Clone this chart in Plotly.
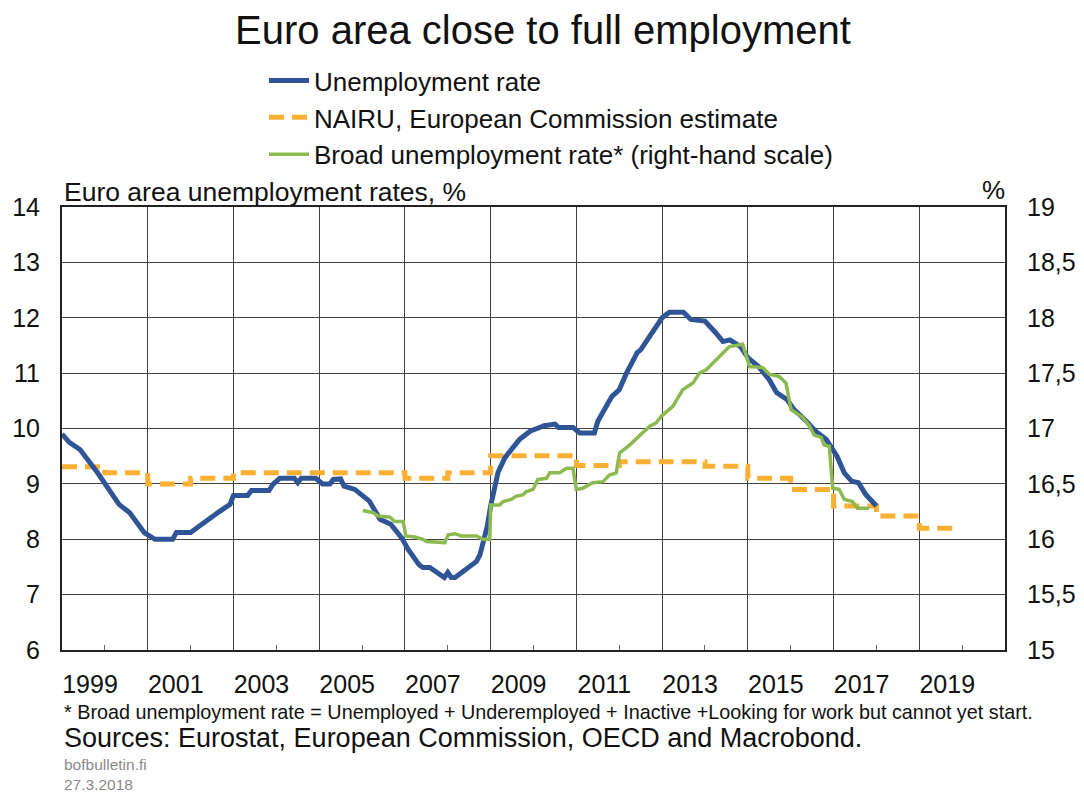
import plotly.graph_objects as go

# ---------------- data ----------------
# Unemployment rate (left scale), x in decimal years
unemp_x = [1999.00, 1999.17, 1999.42, 1999.83, 2000.33, 2000.58, 2000.92, 2001.17, 2001.58, 2001.67,
           2002.00, 2002.25, 2002.67, 2002.92, 2003.00, 2003.33, 2003.42, 2003.83, 2003.92, 2004.08,
           2004.42, 2004.50, 2004.58, 2004.92, 2005.08, 2005.25, 2005.33, 2005.50, 2005.58, 2005.83,
           2006.00, 2006.17, 2006.42, 2006.67, 2006.92, 2007.08, 2007.33, 2007.42, 2007.58, 2007.75,
           2007.92, 2008.00, 2008.08, 2008.17, 2008.33, 2008.50, 2008.67, 2008.75, 2008.83, 2008.92,
           2009.00, 2009.08, 2009.17, 2009.33, 2009.50, 2009.67, 2009.92, 2010.25, 2010.50, 2010.58,
           2010.92, 2011.08, 2011.42, 2011.50, 2011.83, 2012.00, 2012.17, 2012.42, 2012.50, 2012.75,
           2013.00, 2013.17, 2013.50, 2013.67, 2014.00, 2014.25, 2014.42, 2014.58, 2014.83, 2015.00,
           2015.25, 2015.50, 2015.67, 2015.92, 2016.08, 2016.33, 2016.58, 2016.83, 2017.08, 2017.25,
           2017.42, 2017.58, 2017.75, 2018.00]
unemp_y = [9.90, 9.75, 9.62, 9.20, 8.63, 8.48, 8.12, 8.00, 8.00, 8.12,
           8.12, 8.27, 8.50, 8.63, 8.79, 8.79, 8.88, 8.88, 8.99, 9.10,
           9.10, 9.02, 9.10, 9.10, 9.00, 9.00, 9.08, 9.09, 8.96, 8.90,
           8.78, 8.69, 8.36, 8.27, 8.03, 7.81, 7.54, 7.49, 7.49, 7.40,
           7.31, 7.40, 7.31, 7.31, 7.40, 7.49, 7.60, 7.72, 7.94, 8.23,
           8.60, 8.90, 9.20, 9.47, 9.65, 9.80, 9.95, 10.05, 10.08, 10.02,
           10.02, 9.92, 9.92, 10.13, 10.58, 10.70, 11.00, 11.37, 11.42, 11.73,
           12.00, 12.10, 12.10, 11.97, 11.94, 11.73, 11.57, 11.60, 11.48, 11.28,
           11.12, 10.88, 10.65, 10.52, 10.34, 10.16, 9.95, 9.80, 9.50, 9.20,
           9.05, 9.02, 8.81, 8.60]

# NAIRU, European Commission estimate (annual, left scale)
nairu_years = [1999, 2000, 2001, 2002, 2003, 2004, 2005, 2006, 2007, 2008, 2009, 2010,
               2011, 2012, 2013, 2014, 2015, 2016, 2017, 2018, 2019]
nairu_vals = [9.31, 9.20, 9.00, 9.10, 9.20, 9.20, 9.20, 9.20, 9.10, 9.20, 9.51, 9.51,
              9.33, 9.40, 9.40, 9.32, 9.10, 8.90, 8.60, 8.42, 8.20]

# Broad unemployment rate (right scale)
broad_x = [2006.02, 2006.26, 2006.37, 2006.65, 2006.76, 2006.96, 2007.02, 2007.23, 2007.42, 2007.50,
           2007.93, 2008.01, 2008.16, 2008.32, 2008.67, 2008.82, 2008.98, 2009.00, 2009.21, 2009.29,
           2009.48, 2009.60, 2009.75, 2009.83, 2009.99, 2010.10, 2010.30, 2010.38, 2010.61, 2010.77,
           2010.92, 2011.00, 2011.15, 2011.38, 2011.62, 2011.77, 2011.93, 2012.01, 2012.24, 2012.47,
           2012.71, 2012.86, 2012.98, 2013.25, 2013.48, 2013.72, 2013.87, 2014.03, 2014.26, 2014.41,
           2014.57, 2014.88, 2015.04, 2015.35, 2015.50, 2015.73, 2015.89, 2016.01, 2016.28, 2016.44,
           2016.55, 2016.71, 2016.78, 2016.90, 2016.98, 2017.13, 2017.25, 2017.44, 2017.56, 2017.83]
broad_y = [16.26, 16.24, 16.21, 16.20, 16.16, 16.16, 16.03, 16.02, 16.00, 15.98,
           15.97, 16.04, 16.05, 16.03, 16.03, 16.00, 16.00, 16.31, 16.31, 16.34,
           16.36, 16.39, 16.40, 16.43, 16.45, 16.54, 16.55, 16.60, 16.60, 16.64,
           16.64, 16.45, 16.46, 16.51, 16.52, 16.58, 16.60, 16.78, 16.85, 16.93,
           17.02, 17.05, 17.11, 17.20, 17.35, 17.41, 17.50, 17.53, 17.62, 17.68,
           17.74, 17.76, 17.56, 17.55, 17.49, 17.47, 17.41, 17.17, 17.10, 17.02,
           16.94, 16.92, 16.85, 16.84, 16.46, 16.45, 16.36, 16.34, 16.28, 16.28]

year_ticks = [1999, 2001, 2003, 2005, 2007, 2009, 2011, 2013, 2015, 2017, 2019]
year_labels = ["1999", "2001", "2003", "2005", "2007", "2009", "2011", "2013", "2015", "2017", "2019"]
minor_ticks = [2000, 2002, 2004, 2006, 2008, 2010, 2012, 2014, 2016, 2018, 2020]

BLUE = "#2F5597"
ORANGE = "#FBB034"
GREEN = "#8DBA50"
FONT = "Liberation Sans, Arial, sans-serif"

# step series: extend to end of last year
nairu_x = nairu_years + [nairu_years[-1] + 0.92]
nairu_y = nairu_vals + [nairu_vals[-1]]

fig = go.Figure()
fig.add_trace(go.Scatter(x=nairu_x, y=nairu_y, mode="lines", line_shape="hv",
                         name="NAIRU, European Commission estimate", legendrank=2,
                         line=dict(color=ORANGE, width=5, dash="15px,8px")))
fig.add_trace(go.Scatter(x=unemp_x, y=unemp_y, mode="lines", name="Unemployment rate",
                         legendrank=1, line=dict(color=BLUE, width=5)))
fig.add_trace(go.Scatter(x=broad_x, y=broad_y, mode="lines", yaxis="y2",
                         name="Broad unemployment rate* (right-hand scale)", legendrank=3,
                         line=dict(color=GREEN, width=3.5)))

# page body has an 8px margin, so the figure is drawn 8px in from the window edge
W, H = 1068, 786
PW, PH = 943.0, 443.5  # plot area size in px

fig.update_layout(
    width=W, height=H,
    margin=dict(l=54, r=W - 54 - PW, t=199, b=H - 199 - PH, autoexpand=False),
    paper_bgcolor="white", plot_bgcolor="white",
    separators=", ",
    font=dict(family=FONT, color="#111111", size=25),
    title=dict(text="Euro area close to full employment", x=535 / W, xref="container",
               y=1 - 22 / H, yref="container", xanchor="center", yanchor="middle",
               font=dict(size=40, color="#111111", family=FONT)),
    showlegend=True,
    legend=dict(x=(264 - 62) / PW, y=1 + (207 - 57) / PH,
                xanchor="left", yanchor="top", font=dict(size=26, color="#111111"),
                bgcolor="rgba(0,0,0,0)", tracegroupgap=0, itemwidth=40,
                traceorder="normal"),
    xaxis=dict(range=[1999, 2021], tickmode="array", tickvals=year_ticks, ticktext=year_labels,
               ticklabelshift=28, ticks="", showgrid=True, gridcolor="#404040", gridwidth=1.3,
               showline=True, linecolor="#222222", linewidth=2, mirror=True, zeroline=False,
               tickfont=dict(size=25), ticklabelstandoff=11, tickangle=0,
               minor=dict(tickmode="array", tickvals=minor_ticks,
                          ticks="inside", ticklen=5, tickcolor="#666666", tickwidth=1, showgrid=False)),
    yaxis=dict(range=[6, 14], dtick=1, tick0=6, showgrid=True, gridcolor="#404040", gridwidth=1.3,
               showline=True, linecolor="#222222", linewidth=2, mirror=True, zeroline=False,
               ticks="", tickfont=dict(size=25), ticklabelstandoff=15),
    yaxis2=dict(range=[15, 19], dtick=0.5, tick0=15, overlaying="y", side="right",
                showgrid=False, zeroline=False, ticks="", tickfont=dict(size=25),
                ticklabelstandoff=21),
)

notes = [
    dict(text="Euro area unemployment rates, %", y=(650.5 - 192) / PH, size=26.5, color="#111111"),
    dict(text="* Broad unemployment rate = Unemployed + Underemployed + Inactive +Looking for work but cannot yet start.",
         y=(650.5 - 713) / PH, size=19.8, color="#111111"),
    dict(text="Sources: Eurostat, European Commission, OECD and Macrobond.",
         y=(650.5 - 739) / PH, size=27, color="#111111"),
    dict(text="bofbulletin.fi<br>27.3.2018", y=(650.5 - 775) / PH, size=15.5, color="#8a8a8a"),
]
for n in notes:
    fig.add_annotation(text=n["text"], xref="paper", yref="paper", x=0, y=n["y"],
                       xanchor="left", yanchor="middle", align="left", showarrow=False,
                       font=dict(size=n["size"], color=n["color"], family=FONT))
fig.add_annotation(text="%", xref="paper", yref="paper", x=(993 - 62) / PW, y=(650.5 - 190) / PH,
                   xanchor="center", yanchor="middle", showarrow=False,
                   font=dict(size=26, color="#111111", family=FONT))

fig.write_html("out.html")
